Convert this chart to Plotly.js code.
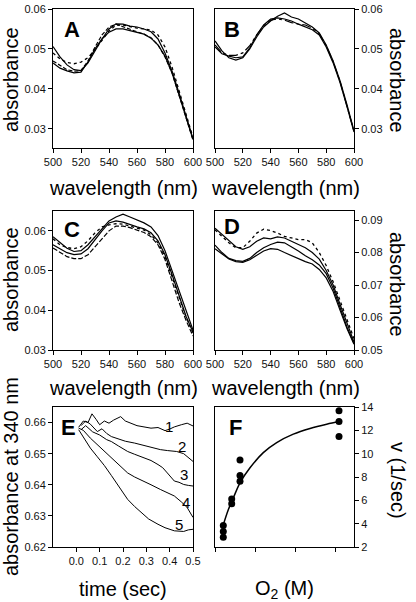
<!DOCTYPE html>
<html>
<head>
<meta charset="utf-8">
<script src="https://cdn.plot.ly/plotly-3.0.1.min.js"></script>
<style>html,body{margin:0;padding:0;background:#fff}#chart{width:416px;height:602px}</style>
</head>
<body>
<div id="chart"></div>
<script>
// ---------- DATA ----------
const wavelength = [500,505,510,515,520,525,530,535,540,545,550,555,560,565,570,575,580,585,590,595,600];

const A_solid1 = [0.0465,0.0452,0.0445,0.0440,0.0442,0.0468,0.0500,0.0525,0.0542,0.0550,0.0550,0.0546,0.0542,0.0537,0.0527,0.0510,0.0482,0.0440,0.0385,0.0330,0.0273];
const A_solid2 = [0.0506,0.0480,0.0460,0.0448,0.0446,0.0465,0.0495,0.0525,0.0550,0.0563,0.0562,0.0557,0.0555,0.0550,0.0543,0.0525,0.0490,0.0445,0.0390,0.0333,0.0275];
const A_dash   = [0.0470,0.0458,0.0448,0.0444,0.0446,0.0470,0.0505,0.0535,0.0555,0.0562,0.0555,0.0548,0.0543,0.0537,0.0528,0.0510,0.0480,0.0440,0.0385,0.0330,0.0272];
const A_dot    = [0.0490,0.0475,0.0466,0.0463,0.0467,0.0478,0.0498,0.0520,0.0545,0.0560,0.0560,0.0556,0.0552,0.0550,0.0547,0.0535,0.0505,0.0455,0.0395,0.0335,0.0278];

const B_solid1 = [0.0520,0.0495,0.0478,0.0472,0.0478,0.0500,0.0530,0.0555,0.0570,0.0582,0.0590,0.0580,0.0575,0.0565,0.0555,0.0540,0.0510,0.0470,0.0420,0.0360,0.0295];
const B_solid2 = [0.0505,0.0488,0.0482,0.0478,0.0480,0.0503,0.0535,0.0560,0.0575,0.0578,0.0575,0.0570,0.0562,0.0555,0.0548,0.0535,0.0505,0.0465,0.0415,0.0355,0.0292];
const B_dashdot= [0.0510,0.0490,0.0484,0.0484,0.0490,0.0508,0.0535,0.0558,0.0572,0.0575,0.0572,0.0566,0.0562,0.0560,0.0552,0.0538,0.0508,0.0468,0.0418,0.0358,0.0294];

const C_solid1 = [0.0585,0.0570,0.0556,0.0548,0.0550,0.0565,0.0585,0.0605,0.0625,0.0635,0.0642,0.0635,0.0628,0.0620,0.0610,0.0588,0.0550,0.0500,0.0445,0.0395,0.0350];
const C_solid2 = [0.0565,0.0555,0.0545,0.0540,0.0542,0.0555,0.0578,0.0600,0.0620,0.0625,0.0622,0.0615,0.0610,0.0605,0.0595,0.0575,0.0540,0.0490,0.0435,0.0385,0.0345];
const C_dash   = [0.0557,0.0545,0.0535,0.0530,0.0530,0.0540,0.0560,0.0580,0.0600,0.0612,0.0612,0.0608,0.0602,0.0596,0.0585,0.0565,0.0528,0.0475,0.0420,0.0375,0.0335];
const C_dot    = [0.0580,0.0565,0.0558,0.0555,0.0560,0.0575,0.0595,0.0610,0.0615,0.0618,0.0617,0.0612,0.0608,0.0602,0.0590,0.0570,0.0535,0.0485,0.0430,0.0383,0.0343];

const D_solid1 = [0.0875,0.0855,0.0835,0.0818,0.0810,0.0818,0.0835,0.0845,0.0842,0.0848,0.0845,0.0835,0.0825,0.0815,0.0800,0.0780,0.0745,0.0700,0.0640,0.0580,0.0525];
const D_solid2 = [0.0823,0.0800,0.0782,0.0775,0.0773,0.0782,0.0800,0.0815,0.0825,0.0832,0.0830,0.0818,0.0805,0.0790,0.0778,0.0762,0.0735,0.0690,0.0630,0.0570,0.0520];
const D_solid3 = [0.0812,0.0795,0.0780,0.0772,0.0770,0.0778,0.0792,0.0805,0.0812,0.0810,0.0800,0.0790,0.0780,0.0772,0.0765,0.0748,0.0722,0.0680,0.0622,0.0565,0.0518];
const D_dot    = [0.0870,0.0850,0.0830,0.0815,0.0815,0.0835,0.0860,0.0872,0.0868,0.0860,0.0850,0.0845,0.0840,0.0840,0.0830,0.0800,0.0760,0.0710,0.0650,0.0590,0.0535];

const E1_t = [0.01,0.03,0.05,0.067,0.085,0.10,0.12,0.14,0.16,0.19,0.21,0.23,0.26,0.29,0.32,0.35,0.38,0.40,0.42,0.45,0.475,0.50];
const E1_v = [0.6585,0.6605,0.6600,0.6628,0.6610,0.6593,0.6605,0.6598,0.6608,0.6619,0.6605,0.6598,0.6590,0.6586,0.6582,0.6584,0.6574,0.6579,0.6586,0.6593,0.6598,0.6589];
const E2_t = [0.02,0.04,0.06,0.09,0.11,0.13,0.15,0.18,0.21,0.25,0.28,0.30,0.33,0.36,0.39,0.43,0.46,0.48,0.50];
const E2_v = [0.6590,0.6605,0.6595,0.6571,0.6580,0.6565,0.6555,0.6548,0.6540,0.6534,0.6528,0.6523,0.6518,0.6513,0.6510,0.6507,0.6500,0.6488,0.6475];
const E3_t = [0.02,0.04,0.07,0.10,0.13,0.15,0.18,0.22,0.25,0.29,0.32,0.35,0.37,0.39,0.42,0.44,0.46,0.48,0.50];
const E3_v = [0.6577,0.6590,0.6570,0.6560,0.6545,0.6539,0.6525,0.6507,0.6498,0.6486,0.6478,0.6465,0.6455,0.6438,0.6412,0.6408,0.6401,0.6398,0.6396];
const E4_t = [0.01,0.03,0.06,0.09,0.12,0.15,0.18,0.22,0.25,0.29,0.32,0.36,0.39,0.42,0.45,0.475,0.50];
const E4_v = [0.6582,0.6575,0.6550,0.6529,0.6508,0.6486,0.6465,0.6438,0.6425,0.6412,0.6400,0.6385,0.6375,0.6364,0.6345,0.6327,0.6295];
const E5_t = [0.01,0.03,0.06,0.09,0.12,0.15,0.18,0.22,0.25,0.28,0.31,0.35,0.38,0.42,0.46,0.48,0.50];
const E5_v = [0.6577,0.6555,0.6518,0.6490,0.6462,0.6430,0.6398,0.6353,0.6330,0.6311,0.6290,0.6273,0.6262,0.6252,0.6250,0.6255,0.6257];
const E_labels = ["1","2","3","4","5"];
const E_label_t = [0.395,0.454,0.461,0.468,0.439];
const E_label_v = [0.6587,0.6523,0.6433,0.6343,0.6273];

const F_O2 = [8.3e-6,8.3e-6,8.3e-6,16.7e-6,16.7e-6,25e-6,25e-6,25e-6,124e-6,124e-6,124e-6];
const F_v  = [3.84,3.32,2.83,6.12,5.71,9.45,8.13,7.64,13.68,12.76,11.47];
const Ffit_O2 = [8.3e-6,13.3e-6,18.3e-6,25e-6,35e-6,48.3e-6,61.7e-6,78.3e-6,95e-6,111.7e-6,124.3e-6];
const Ffit_v  = [3.9,5.19,6.2,7.5,8.79,10.09,10.95,11.67,12.16,12.53,12.76];
const F_tickvals = [0,40e-6,80e-6,120e-6];
const F_ticktext = ["0","40x10<sup>-6</sup>","80x10<sup>-6</sup>","120x10<sup>-6</sup>"];

// ---------- LAYOUT ----------
const W = 416, H = 602;
const FONT = "Arial, 'Liberation Sans', sans-serif";
const px = v => v / W;
const py = v => 1 - v / H;

const traces = [];
function line(x, y, xa, ya, dash, width) {
  traces.push({x: x, y: y, xaxis: xa, yaxis: ya, type: 'scatter', mode: 'lines',
    line: {color: '#000', width: width || 1.2, dash: dash || 'solid'}, hoverinfo: 'skip', showlegend: false});
}
line(wavelength, A_solid1, 'x', 'y');
line(wavelength, A_solid2, 'x', 'y');
line(wavelength, A_dash, 'x', 'y', '4px,2px');
line(wavelength, A_dot, 'x', 'y', 'dot', 1.3);

line(wavelength, B_solid1, 'x2', 'y2');
line(wavelength, B_solid2, 'x2', 'y2');
line(wavelength, B_dashdot, 'x2', 'y2', 'dashdot');

line(wavelength, C_solid1, 'x3', 'y3');
line(wavelength, C_solid2, 'x3', 'y3');
line(wavelength, C_dash, 'x3', 'y3', '5px,2px');
line(wavelength, C_dot, 'x3', 'y3', 'dot', 1.3);

line(wavelength, D_solid1, 'x4', 'y4');
line(wavelength, D_solid2, 'x4', 'y4');
line(wavelength, D_solid3, 'x4', 'y4');
line(wavelength, D_dot, 'x4', 'y4', 'dot', 1.3);

line(E1_t, E1_v, 'x5', 'y5', 'solid', 1);
line(E2_t, E2_v, 'x5', 'y5', 'solid', 1);
line(E3_t, E3_v, 'x5', 'y5', 'solid', 1);
line(E4_t, E4_v, 'x5', 'y5', 'solid', 1);
line(E5_t, E5_v, 'x5', 'y5', 'solid', 1);

traces.push({x: Ffit_O2, y: Ffit_v, xaxis: 'x6', yaxis: 'y6', type: 'scatter', mode: 'lines',
  line: {color: '#000', width: 1.5, shape: 'spline'}, hoverinfo: 'skip', showlegend: false});
traces.push({x: F_O2, y: F_v, xaxis: 'x6', yaxis: 'y6', type: 'scatter', mode: 'markers',
  marker: {color: '#000', size: 7}, hoverinfo: 'skip', showlegend: false});

const tickfont = {family: FONT, size: 11, color: '#111'};

// F x tick labels drawn as a text trace on the O2 axis, just below the plot (not clipped)
const F_label_row = F_tickvals.map(() => 0.8);
traces.push({x: F_tickvals, y: F_label_row, xaxis: 'x6', yaxis: 'y6', type: 'scatter', mode: 'text',
  text: F_ticktext, textposition: 'middle center', textfont: tickfont, cliponaxis: false,
  hoverinfo: 'skip', showlegend: false});

function xax(l, r, anchor, range, extra) {
  return Object.assign({domain: [px(l), px(r)], anchor: anchor, range: range,
    showline: true, linecolor: '#000', linewidth: 1, mirror: true,
    ticks: 'outside', ticklen: 4, tickcolor: '#000', tickwidth: 1, tickangle: 0,
    showgrid: false, zeroline: false, tickfont: tickfont, fixedrange: true}, extra || {});
}
function yax(t, b, anchor, range, side, extra) {
  return Object.assign({domain: [py(b), py(t)], anchor: anchor, range: range, side: side,
    showline: true, linecolor: '#000', linewidth: 1, mirror: true,
    ticks: 'outside', ticklen: 4, tickcolor: '#000', tickwidth: 1, tickangle: 0,
    showgrid: false, zeroline: false, tickfont: tickfont, fixedrange: true}, extra || {});
}
const wlTicks = {tickvals: [500,520,540,560,580,600]};
const L1 = 53, R1 = 193, L2 = 215, R2 = 354;
const F_range = [0, 139e-6];

const layout = {
  width: W, height: H, margin: {l: 0, r: 0, t: 0, b: 0},
  paper_bgcolor: '#fff', plot_bgcolor: '#fff', showlegend: false,
  font: {family: FONT, color: '#000'},
  xaxis:  xax(L1, R1, 'y',  [500, 600], wlTicks),
  yaxis:  yax(9, 148, 'x',  [0.0252, 0.06], 'left', {tickvals: [0.03,0.04,0.05,0.06], tickformat: '.2f'}),
  xaxis2: xax(L2, R2, 'y2', [500, 600], wlTicks),
  yaxis2: yax(9, 148, 'x2', [0.0252, 0.06], 'right', {tickvals: [0.03,0.04,0.05,0.06], tickformat: '.2f'}),
  xaxis3: xax(L1, R1, 'y3', [500, 600], wlTicks),
  yaxis3: yax(211, 350, 'x3', [0.03, 0.065], 'left', {tickvals: [0.03,0.04,0.05,0.06], tickformat: '.2f'}),
  xaxis4: xax(L2, R2, 'y4', [500, 600], wlTicks),
  yaxis4: yax(211, 350, 'x4', [0.05, 0.0928], 'right', {tickvals: [0.05,0.06,0.07,0.08,0.09], tickformat: '.2f'}),
  xaxis5: xax(L1, R1, 'y5', [-0.1, 0.5], {tickvals: [0,0.1,0.2,0.3,0.4,0.5], tickformat: '.1f'}),
  yaxis5: yax(407, 547, 'x5', [0.62, 0.665], 'left', {tickvals: [0.62,0.63,0.64,0.65,0.66], tickformat: '.2f'}),
  xaxis6: xax(L2, R2, 'y6', F_range, {tickvals: F_tickvals, showticklabels: false}),
  yaxis6: yax(407, 547, 'x6', [2, 14], 'right', {tickvals: [2,4,6,8,10,12,14]}),
  annotations: []
};

function ann(text, x, y, size, opts) {
  layout.annotations.push(Object.assign({text: text, xref: 'paper', yref: 'paper',
    x: px(x), y: py(y), xanchor: 'center', yanchor: 'middle', showarrow: false,
    font: {family: FONT, size: size, color: '#000'}}, opts || {}));
}
// panel letters
ann('<b>A</b>', 72, 30, 22);
ann('<b>B</b>', 232, 30, 22);
ann('<b>C</b>', 72, 229, 22);
ann('<b>D</b>', 232, 227, 22);
ann('<b>E</b>', 68, 427, 22);
ann('<b>F</b>', 235, 427, 22);
// axis titles
ann('absorbance', 11, 80, 20, {textangle: -90});
ann('absorbance', 397, 80, 20, {textangle: 90});
ann('absorbance', 11, 280, 20, {textangle: -90});
ann('absorbance', 397, 284, 20, {textangle: 90});
ann('absorbance at 340 nm', 11, 477, 20, {textangle: -90});
ann('v (1/sec)', 398, 480, 20, {textangle: 90});
ann('wavelength (nm)', 123, 188, 20);
ann('wavelength (nm)', 285, 188, 20);
ann('wavelength (nm)', 123, 388, 20);
ann('wavelength (nm)', 285, 388, 20);
ann('time (sec)', 123, 589, 20);
ann('O<sub>2</sub> (M)', 284, 589, 20);
// curve numbers in E
for (let i = 0; i < E_labels.length; i++) {
  layout.annotations.push({text: E_labels[i], xref: 'x5', yref: 'y5', x: E_label_t[i], y: E_label_v[i],
    xanchor: 'center', yanchor: 'middle', showarrow: false, font: {family: FONT, size: 15, color: '#000'}});
}

Plotly.newPlot('chart', traces, layout, {staticPlot: true, displayModeBar: false});
</script>
</body>
</html>
